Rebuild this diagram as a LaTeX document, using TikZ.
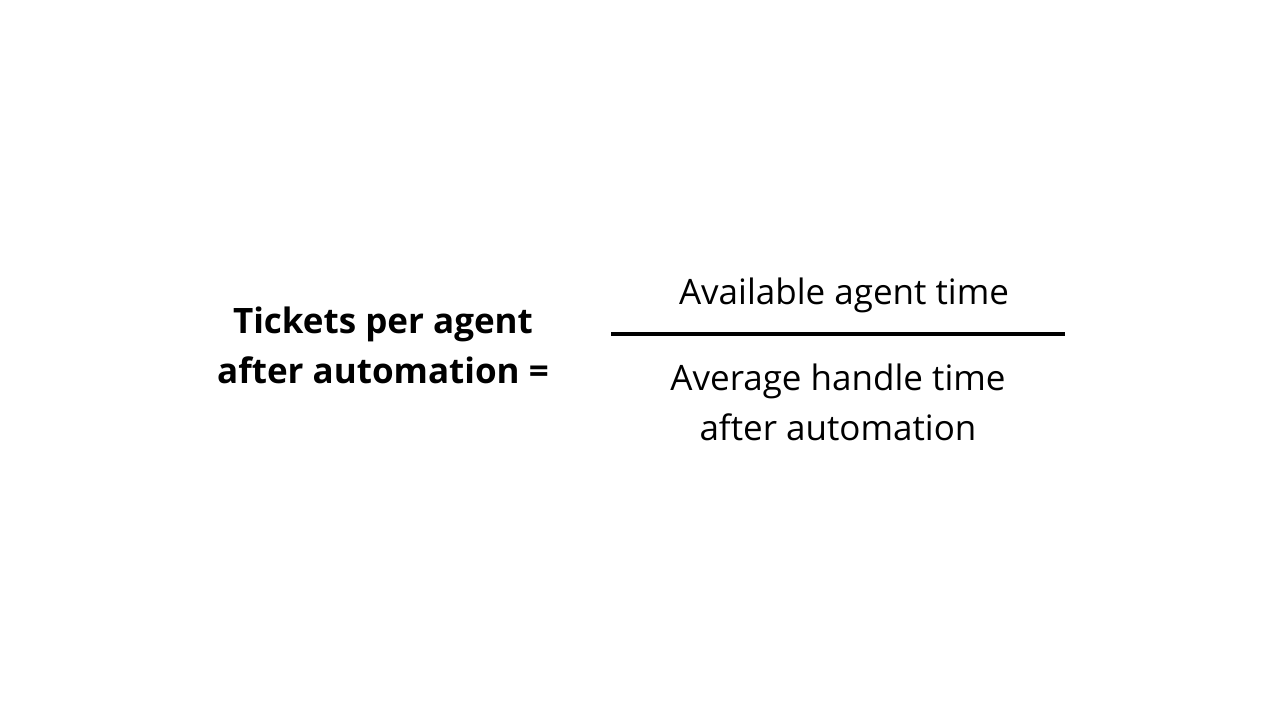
\documentclass[tikz,border=0pt]{standalone}
\usepackage{fontspec}
\setmainfont{Open Sans}
\begin{document}
\begin{tikzpicture}[x=1pt,y=1pt,
  txt/.style={align=center,font=\fontsize{35}{50}\selectfont,inner sep=0pt}]
\useasboundingbox (0,0) rectangle (1280,720);
\node[txt,font=\fontsize{35}{50}\selectfont\bfseries] (lhs) at (383,375) {Tickets per agent\\after automation =};
\node[txt] (num) at (844,425) {Available agent time};
\node[txt] (den) at (838,318) {Average handle time\\after automation};
\coordinate (a) at (611,386);
\coordinate (b) at (1065,386);
\draw[line width=4pt] (a) -- (b);
\end{tikzpicture}
\end{document}
